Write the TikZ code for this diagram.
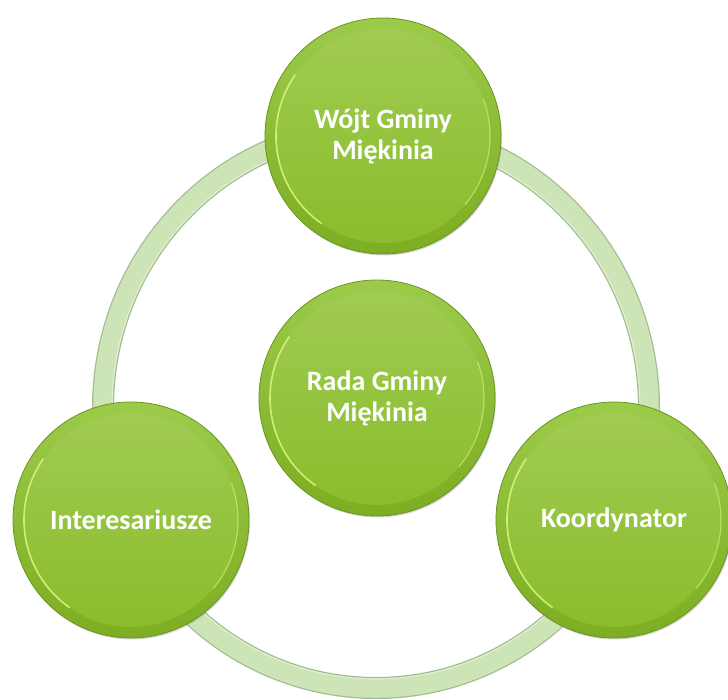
\documentclass[tikz,border=0pt]{standalone}
\usepackage{fontspec}
\setmainfont{Carlito}
\usetikzlibrary{shadows}

\definecolor{ringfill}{HTML}{CDE4B6}
\definecolor{ringedge}{HTML}{A3BC90}
\definecolor{rimdark}{HTML}{6A9620}
\definecolor{bandtop}{HTML}{9CCB4A}
\definecolor{bandbot}{HTML}{7DAD22}
\definecolor{disctop}{HTML}{A0CC54}
\definecolor{discbot}{HTML}{89BC2A}
\definecolor{glow}{HTML}{D4F67C}

\tikzset{
    member/.style={circle, minimum size=236pt, inner sep=0pt, align=center,
        draw=rimdark, line width=.8pt, top color=bandtop, bottom color=bandbot,
        drop shadow={shadow xshift=1pt, shadow yshift=-1.5pt, opacity=.3},
        text=white, font=\bfseries\fontsize{28}{31}\selectfont,
        path picture={
            \shade[top color=disctop, bottom color=discbot]
                (path picture bounding box.center) circle (107pt);
            \draw[glow, line width=1.6pt, opacity=.9]
                ([shift={(145:107pt)}]path picture bounding box.center)
                arc[start angle=145, end angle=235, radius=107pt];
            \draw[glow, line width=1.2pt, opacity=.6]
                ([shift={(-40:107pt)}]path picture bounding box.center)
                arc[start angle=-40, end angle=20, radius=107pt];
        }},
}

\begin{document}
\begin{tikzpicture}[x=1pt, y=-1pt]
\useasboundingbox (0,0) rectangle (728,700);

% ring behind the circles
\draw[ringedge, line width=22pt] (376,408) ellipse [x radius=273, y radius=280];
\draw[ringfill, line width=19.5pt] (376,408) ellipse [x radius=273, y radius=280];
\draw[white, opacity=.5, line width=.8pt] (376,408) ellipse [x radius=264, y radius=271];

\node[member] (wojt)  at (383,136) {Wójt Gminy\\Miękinia};
\node[member] (rada)  at (377,398) {Rada Gminy\\Miękinia};
\node[member] (inter) at (131,520) {Interesariusze};
\node[member] (koord) at (614,520) {Koordynator};
\end{tikzpicture}
\end{document}
